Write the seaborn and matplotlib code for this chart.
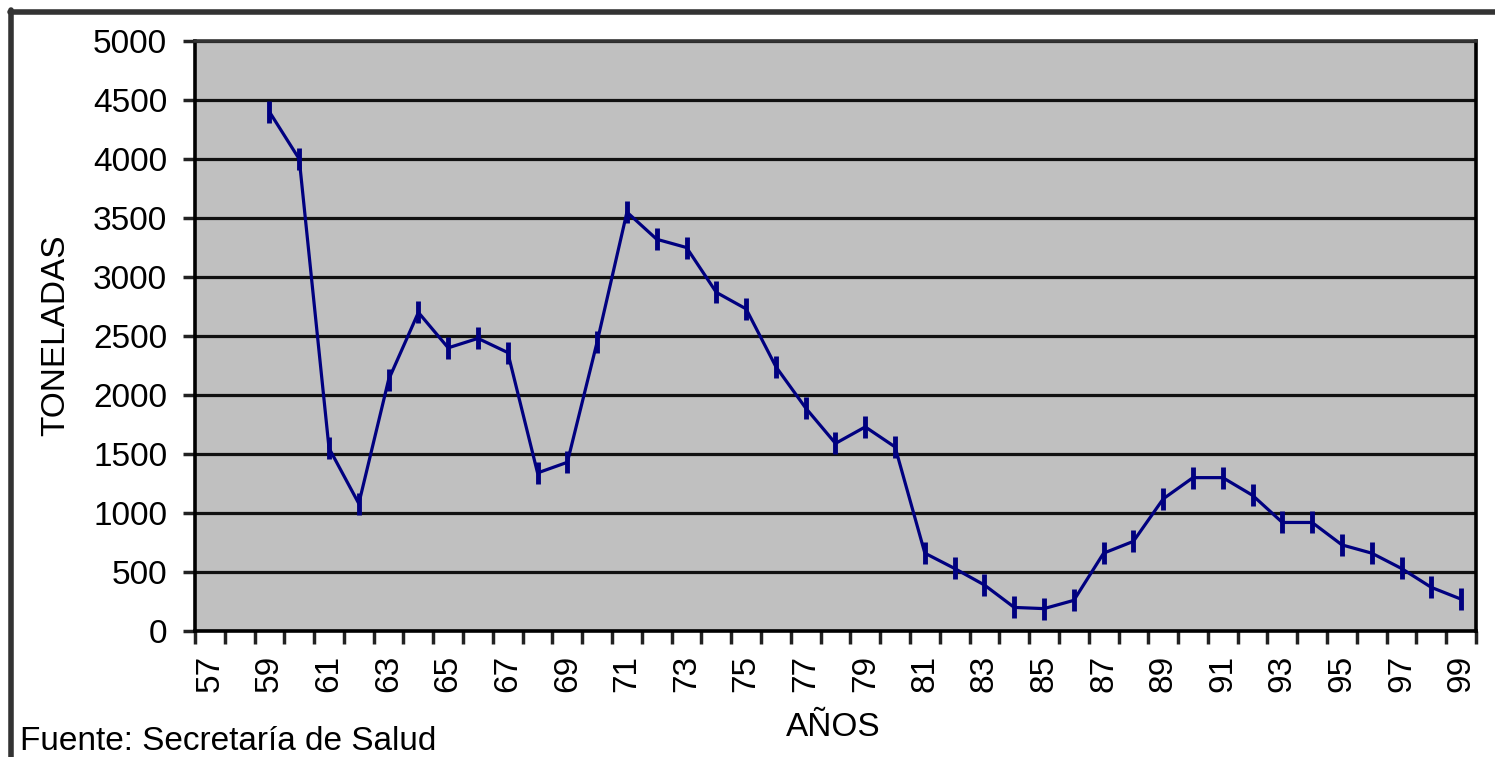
import matplotlib
matplotlib.use("Agg")
import matplotlib.pyplot as plt
import numpy as np
import pandas as pd
import seaborn as sns
from matplotlib.lines import Line2D

sns.set_theme(style="white")
plt.rcParams["font.family"] = ["Liberation Sans", "DejaVu Sans"]
plt.rcParams["text.color"] = "black"
plt.rcParams["axes.labelcolor"] = "black"
plt.rcParams["xtick.color"] = "black"
plt.rcParams["ytick.color"] = "black"

# data (tons per year, 1959-1999)
years = list(range(59, 100))
toneladas = [4400, 4000, 1550, 1080, 2130, 2700, 2400, 2480, 2360, 1340,
             1430, 2450, 3550, 3320, 3250, 2870, 2730, 2240, 1890, 1590,
             1730, 1560, 660, 530, 390, 200, 190, 260, 660, 760,
             1120, 1300, 1300, 1150, 920, 920, 730, 660, 530, 370,
             270]
tick_years = list(range(57, 100, 2))
y_ticks = list(range(0, 5001, 500))

df = pd.DataFrame({"year": years, "toneladas": toneladas})

fig = plt.figure(figsize=(14.95, 7.57), dpi=100)
ax = fig.add_axes([0.1304, 0.1664, 0.8569, 0.7794])
ax.set_facecolor("#c0c0c0")

sns.lineplot(data=df, x="year", y="toneladas", ax=ax, color="#000080",
             linewidth=2.3, marker="|", markersize=16, markeredgewidth=3.5,
             markeredgecolor="#000080")

ax.set_xlim(56.5, 99.5)
ax.set_ylim(0, 5000)
ax.set_yticks(y_ticks)
ax.set_yticklabels([str(v) for v in y_ticks], fontsize=24)
ax.set_xticks(tick_years)
ax.set_xticklabels([str(y) for y in tick_years], rotation=90, fontsize=24)
ax.set_xticks(np.arange(56.5, 100, 1), minor=True)

ax.tick_params(axis="x", which="major", length=0, pad=17)
ax.tick_params(axis="x", which="minor", length=9, width=2.5, color="#222222",
               direction="out", bottom=True)
ax.tick_params(axis="y", which="major", length=9, width=2.5, color="#222222",
               direction="out", left=True, pad=11)

ax.grid(axis="y", color="#111111", linewidth=2.3)
ax.grid(axis="x", visible=False)
ax.set_axisbelow(True)

for side in ["left", "bottom", "right", "top"]:
    ax.spines[side].set_color("#000000")
    ax.spines[side].set_linewidth(2.6)
ax.spines["top"].set_color("#333333")

ax.set_ylabel("TONELADAS", fontsize=24)
ax.yaxis.set_label_coords(-0.109, 0.502)
ax.set_xlabel("AÑOS", fontsize=24)
ax.xaxis.set_label_coords(0.498, -0.163)
ax.xaxis.label.set_verticalalignment("center")
ax.yaxis.label.set_verticalalignment("center")

fig.text(20 / 1495, 1 - 742 / 757, "Fuente: Secretaría de Salud",
         fontsize=24, ha="left", va="center")

# outer frame of the original document (top and left edges)
fig.add_artist(Line2D([10 / 1495, 1.0], [1 - 12 / 757, 1 - 12 / 757],
                      transform=fig.transFigure, color="#333333", linewidth=4))
fig.add_artist(Line2D([11 / 1495, 11 / 1495], [0.0, 1 - 10 / 757],
                      transform=fig.transFigure, color="#333333", linewidth=4))

fig.savefig("out.png", dpi=100)
plt.close(fig)
